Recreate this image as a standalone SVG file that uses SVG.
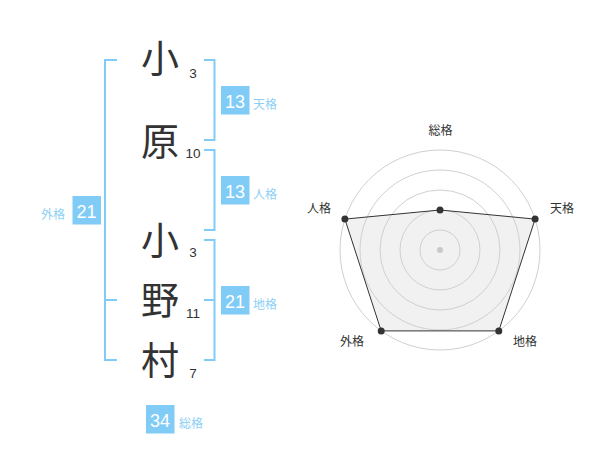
<svg xmlns="http://www.w3.org/2000/svg" width="600" height="470" viewBox="0 0 600 470">
<style>
.ch{font-family:"Noto Sans CJK JP","Noto Sans CJK SC",sans-serif;font-size:38px;fill:#333;text-anchor:middle}
.num{font-family:"Liberation Sans",Arial,sans-serif;font-size:13.5px;fill:#333;text-anchor:middle}
.box{fill:#80ccf7}
.bn{font-family:"Liberation Sans",Arial,sans-serif;font-size:18px;fill:#fff;text-anchor:middle}
.bl{font-family:"Noto Sans CJK JP",sans-serif;font-size:12px;fill:#8ccff5}
.br{fill:none;stroke:#80ccf7;stroke-width:2}
.ring{fill:none;stroke:#d0d0d0;stroke-width:1}
.rl{font-family:"Noto Sans CJK JP",sans-serif;font-size:12px;fill:#333;text-anchor:middle}
.pt{fill:#333}
</style>
<rect width="600" height="470" fill="#fff"/>
<g id="connectors">
<path class="br" d="M117,60 H105 V360 H117 M105,300 H117"/>
<path class="br" d="M204,60 H214.5 V140 H204"/>
<path class="br" d="M204,150 H214.5 V230 H204"/>
<path class="br" d="M204,240 H214.5 V360 H204 M214.5,300 H204"/>
</g>
<g id="char-1"><text class="ch" x="160" y="72">小</text><text class="num" x="193" y="78">3</text></g>
<g id="char-2"><text class="ch" x="160" y="155">原</text><text class="num" x="193" y="158">10</text></g>
<g id="char-3"><text class="ch" x="160" y="254">小</text><text class="num" x="193" y="257">3</text></g>
<g id="char-4"><text class="ch" x="160" y="314">野</text><text class="num" x="193" y="318">11</text></g>
<g id="char-5"><text class="ch" x="160" y="374">村</text><text class="num" x="193" y="378">7</text></g>
<g id="tenkaku"><rect class="box" x="221" y="86" width="28.5" height="28.5"/><text class="bn" x="235" y="107.5">13</text><text class="bl" x="253" y="109">天格</text></g>
<g id="jinkaku"><rect class="box" x="221" y="176" width="28.5" height="28.5"/><text class="bn" x="235" y="197.5">13</text><text class="bl" x="253" y="199">人格</text></g>
<g id="chikaku"><rect class="box" x="221" y="286" width="28.5" height="28.5"/><text class="bn" x="235" y="307.5">21</text><text class="bl" x="253" y="309">地格</text></g>
<g id="gaikaku"><rect class="box" x="72.5" y="196" width="28.5" height="28.5"/><text class="bn" x="86.5" y="217.5">21</text><text class="bl" x="41" y="219">外格</text></g>
<g id="soukaku"><rect class="box" x="146" y="405" width="28.5" height="28.5"/><text class="bn" x="160" y="426.5">34</text><text class="bl" x="179" y="428">総格</text></g>
<g id="radar">
<polygon points="440,210 535.1,219.1 498.8,330.9 381.2,330.9 344.9,219.1" fill="#f1f1f1"/>
<circle class="ring" cx="440" cy="250" r="20"/>
<circle class="ring" cx="440" cy="250" r="40"/>
<circle class="ring" cx="440" cy="250" r="60"/>
<circle class="ring" cx="440" cy="250" r="80"/>
<circle class="ring" cx="440" cy="250" r="100"/>
<circle cx="440" cy="250" r="3" fill="#c8c8c8"/>
<polygon points="440,210 535.1,219.1 498.8,330.9 381.2,330.9 344.9,219.1" fill="none" stroke="#333" stroke-width="1"/>
<circle class="pt" cx="440" cy="210" r="3.5"/>
<circle class="pt" cx="535.1" cy="219.1" r="3.5"/>
<circle class="pt" cx="498.8" cy="330.9" r="3.5"/>
<circle class="pt" cx="381.2" cy="330.9" r="3.5"/>
<circle class="pt" cx="344.9" cy="219.1" r="3.5"/>
<text class="rl" x="440.5" y="135">総格</text>
<text class="rl" x="562" y="213">天格</text>
<text class="rl" x="319" y="213">人格</text>
<text class="rl" x="352" y="346">外格</text>
<text class="rl" x="525" y="346">地格</text>
</g>
</svg>
